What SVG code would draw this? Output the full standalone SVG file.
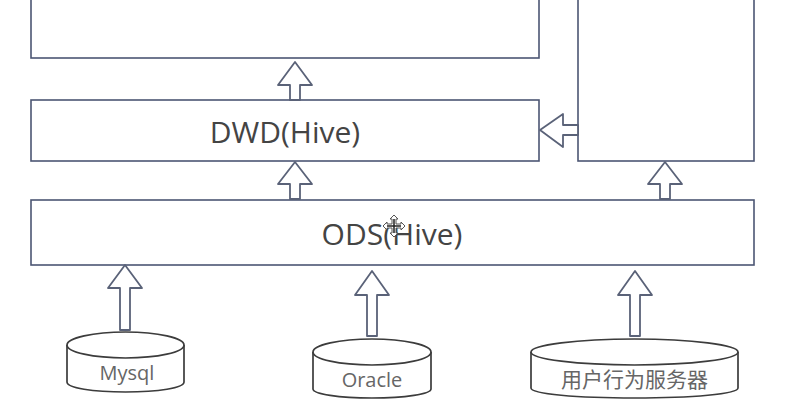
<svg xmlns="http://www.w3.org/2000/svg" width="802" height="410" viewBox="0 0 802 410">
<style>
.box{fill:#fff;stroke:#4c5673;stroke-width:1.6}
.arrow{fill:#fff;stroke:#5a6278;stroke-width:1.8;stroke-linejoin:round}
.cyl{fill:#fff;stroke:#3c3c3c;stroke-width:1.7}
.big{font-family:"Open Sans","Noto Sans",sans-serif;font-size:30px;fill:#444;text-anchor:middle}
.small{font-family:"Open Sans","Noto Sans",sans-serif;font-size:20px;fill:#666;text-anchor:middle}
.cjk{font-family:"Noto Sans CJK SC",sans-serif;font-size:21px;fill:#666;text-anchor:middle}
</style>
<rect width="802" height="410" fill="#fff"/>
<g id="top-left"><rect class="box" x="31" y="-20" width="508" height="78"/></g>
<g id="top-right"><rect class="box" x="578" y="-20" width="176" height="181"/></g>
<g id="dwd"><rect class="box" x="31" y="100" width="508" height="61"/><text class="big" x="285" y="143">DWD(Hive)</text></g>
<g id="ods"><rect class="box" x="31" y="200" width="723" height="65"/><text class="big" x="392" y="245">ODS(Hive)</text></g>
<g id="mysql"><path class="cyl" d="M67 345V382C67 388 93 392 125.500 392S184 388 184 382V345"/><ellipse class="cyl" cx="125.500" cy="345" rx="58.500" ry="13"/><text class="small" x="127" y="380">Mysql</text></g>
<g id="oracle"><path class="cyl" d="M313 352V389C313 394 339 398 372 398S431 394 431 389V352"/><ellipse class="cyl" cx="372" cy="352" rx="59" ry="13"/><text class="small" x="372" y="387">Oracle</text></g>
<g id="user-server"><path class="cyl" d="M531 352V388C531 394 577 398 634.500 398S738 394 738 388V352"/><ellipse class="cyl" cx="634.500" cy="352" rx="103.500" ry="13"/><text class="cjk" x="634.500" y="387">用户行为服务器</text></g>
<g id="connectors">
<path class="arrow" d="M295 62L312 85H300V100H290V85H278Z"/>
<path class="arrow" d="M295 162L312 184H300V199H290V184H278Z"/>
<path class="arrow" d="M665 162L682 184H670V199H660V184H648Z"/>
<path class="arrow" d="M540 130L563 114V125H578V135H563V147Z"/>
<path class="arrow" d="M125 265L142 288H130V330H120V288H108Z"/>
<path class="arrow" d="M372 271L389 295H377V336H367V295H355Z"/>
<path class="arrow" d="M635 271L652 295H640V336H630V295H618Z"/>
</g>
<path d="M394 215L398 219H396V224H401V222L405 226L401 230V228H396V233H398L394 237L390 233H392V228H387V230L383 226L387 222V224H392V219H390Z" fill="#fff" stroke="#555" stroke-width="1"/>
<path d="M394 219V233M387 226H401" stroke="#222" stroke-width="1.500" fill="none"/>
</svg>
